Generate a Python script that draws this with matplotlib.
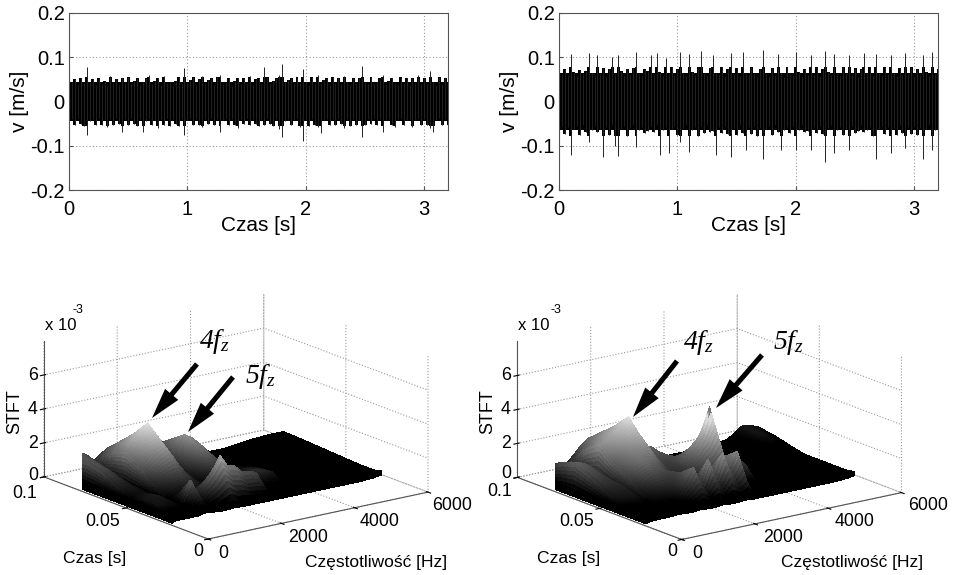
import numpy as np
from matplotlib import pyplot as plt
from matplotlib.colors import LinearSegmentedColormap

plt.rcParams['font.family'] = ['Liberation Sans', 'DejaVu Sans']
plt.rcParams['mathtext.fontset'] = 'custom'
plt.rcParams['mathtext.it'] = 'Liberation Serif:italic'
plt.rcParams['mathtext.rm'] = 'Liberation Serif:italic'

# envelope of the velocity traces, one value every 0.025 s, in mm/s
time_step = 0.025
left_up = [54,44,50,38,52,42,78,44,50,38,54,40,46,36,58,42,50,37,53,41,
           56,39,46,54,38,45,52,60,40,46,53,38,58,42,45,36,47,55,39,75,
           42,48,55,38,50,57,39,49,53,38,55,60,40,45,52,36,46,54,39,52,
           41,58,38,50,53,39,78,55,40,46,52,60,85,44,49,53,39,56,42,74,
           44,38,55,40,60,42,48,53,37,56,41,52,39,58,44,38,54,42,52,80,
           45,39,56,41,45,52,60,40,46,54,42,38,56,40,52,38,53,41,60,39,
           52,40,68,44,38,55,39,52,44]
left_down = [55,40,52,38,50,56,75,44,39,53,38,54,42,58,39,52,37,50,70,40,
             53,38,50,55,40,68,44,38,54,41,60,39,52,37,55,40,50,56,39,75,
             42,38,54,40,52,58,39,50,38,53,40,68,42,38,54,39,52,60,40,50,
             38,54,40,50,56,39,52,38,50,55,40,62,80,44,39,54,42,38,58,90,
             42,55,39,52,58,72,42,40,54,39,52,38,50,60,40,55,39,52,42,80,
             54,40,50,38,53,40,70,42,39,52,58,40,38,54,42,39,58,42,38,54,
             40,52,60,70,42,38,54,40,52]
right_up = [72,62,74,60,108,66,58,72,62,70,110,64,58,104,62,76,56,74,100,62,
            106,68,58,74,60,76,112,62,58,74,68,104,60,110,66,58,98,62,78,60,
            74,112,62,58,108,66,60,78,114,62,58,76,104,64,60,78,56,74,110,62,
            76,58,112,64,60,78,62,56,74,116,62,58,76,60,108,64,56,78,62,60,
            112,66,58,74,60,106,62,78,56,74,114,66,60,108,62,58,78,64,104,60,
            76,56,74,110,62,78,58,108,64,60,78,62,106,64,58,76,60,110,62,78,
            56,74,60,106,66,58,112,62,74]
right_down = [70,56,74,58,120,62,56,76,54,70,92,64,56,70,62,126,58,76,54,100,
              124,62,56,78,60,54,102,64,58,72,66,56,70,54,120,64,58,116,62,56,
              76,92,60,54,114,64,58,78,56,72,54,70,66,120,58,72,56,74,126,60,
              76,54,72,110,58,74,56,78,60,130,62,56,76,54,70,110,64,58,72,56,
              110,64,54,70,66,110,58,72,56,74,136,60,54,116,64,58,76,62,110,56,
              72,66,54,70,64,58,78,130,62,56,74,58,116,60,76,54,72,106,58,74,
              56,76,60,130,62,54,110,64,58]

velocity_ticks_x = [0, 1, 2, 3]
velocity_ticks_y = [-0.2, -0.1, 0, 0.1, 0.2]
velocity_labels_y = ['-0.2', '-0.1', '0', '0.1', '0.2']

# STFT surfaces, values in 1e-3, rows go with stft_time, columns with stft_freq
stft_freq = [100,150,400,600,750,800,1000,1200,1400,1600,1800,2000,2200,2400,
             2600,2800,3000,3200,3400,3600,3800,4000,4400,4800,5200,5600,6000]
stft_time = [0.088,0.076,0.068,0.059,0.050,0.041,0.033,0.024]

stft_left = [
 [0,1.7,1.7,1.5,0.4,1.0,1.3,1.6,1.7,1.4,1.0,0.7,0.9,1.2,1.0,0.8,0.5,0.5,0.45,0.4,0.3,0.1,0.1,0.2,0.3,0.35,0.35],
 [0,1.7,1.5,1.1,0.4,1.9,2.3,2.6,2.8,2.5,1.5,0.9,1.5,2.0,1.9,1.6,1.1,0.7,0.5,0.4,0.3,0.2,0.2,0.25,0.3,0.3,0.3],
 [0,1.5,1.3,0.9,0.3,2.2,2.8,3.3,3.7,3.0,1.7,0.9,1.7,2.55,2.3,1.8,1.2,0.7,0.5,0.4,0.3,0.2,0.2,0.25,0.25,0.25,0.25],
 [0,1.0,0.9,0.7,0.3,1.7,2.1,2.5,2.8,2.2,1.3,0.9,1.4,2.0,1.9,1.4,1.0,0.5,0.5,0.5,0.45,0.2,0.2,0.2,0.2,0.2,0.2],
 [0,0.6,0.7,0.6,0.3,1.0,1.2,1.4,1.5,1.3,0.9,0.6,0.8,1.1,1.1,0.9,0.7,0.8,0.8,0.7,0.4,0.15,0.15,0.2,0.15,0.15,0.15],
 [0,0.8,0.9,0.7,0.4,0.5,0.6,0.6,0.7,0.7,0.6,0.8,1.2,1.4,1.3,1.1,1.0,1.1,1.0,0.8,0.2,0.1,0.1,0.1,0.1,0.1,0.1],
 [0,0.8,0.7,0.6,0.4,0.6,1.8,0.9,1.5,2.1,2.9,2.2,2.1,1.6,1.6,1.4,0.4,0.3,0.25,0.2,0.15,0.1,0.1,0.1,0.1,0.1,0.1],
 [0,0.1,0.1,0.1,0.1,0.1,0.2,0.15,0.1,0.1,0.15,0.1,0.1,0.1,0.1,0.1,0.1,0.1,0.1,0.1,0.1,0.1,0.1,0.1,0.1,0.15,0.3],
]
stft_right = [
 [0,1.0,1.0,0.9,0.3,0.9,1.3,1.8,2.1,2.2,1.7,1.2,1.0,0.7,0.4,0.2,0.1,0.1,0.1,0.1,0.1,0.1,0.1,0.15,0.3,0.9,0.7],
 [0,1.7,1.6,1.3,0.3,2.1,2.4,2.7,2.9,3.2,2.4,1.7,1.6,1.3,0.9,0.4,0.2,0.1,0.1,0.1,0.1,0.1,0.1,0.15,0.3,0.8,0.5],
 [0,2.0,1.8,1.5,0.3,2.7,2.9,3.1,3.5,4.0,3.1,2.0,2.0,1.6,1.0,0.5,0.3,0.2,0.1,0.1,0.1,0.1,0.1,0.1,0.2,0.5,0.3],
 [0,1.6,1.5,1.2,0.3,1.9,2.2,2.5,2.7,2.9,2.3,1.5,1.5,1.6,1.6,1.5,1.0,0.3,0.2,0.1,0.1,0.1,0.1,0.1,0.15,0.3,0.1],
 [0,1.1,1.1,1.1,0.4,1.5,2.0,2.2,2.0,1.8,1.4,1.2,1.3,1.9,2.6,3.3,4.6,0.4,1.0,1.6,0.2,0.1,0.1,0.1,0.1,0.2,0.1],
 [0,0.7,0.8,0.8,0.5,0.8,1.0,1.2,1.2,1.3,1.6,1.0,1.0,1.2,1.4,1.6,2.0,0.5,0.8,1.2,0.2,0.1,0.1,0.1,0.1,0.15,0.1],
 [0,0.1,0.2,0.3,0.3,0.4,0.5,0.5,0.8,1.4,2.2,1.2,2.5,1.4,2.7,1.6,2.6,0.2,0.15,0.1,0.1,0.1,0.1,0.1,0.1,0.1,0.1],
 [0,0.05,0.1,0.1,0.1,0.1,0.15,0.1,0.1,0.15,0.1,0.1,0.15,0.1,0.1,0.15,0.1,0.1,0.1,0.1,0.1,0.1,0.1,0.1,0.1,0.15,0.3],
]
stft_freq_ticks = [0, 2000, 4000, 6000]
stft_time_ticks = [0, 0.05, 0.1]
stft_z_ticks = [0, 2, 4, 6]

W, H = 955, 575
fig = plt.figure(figsize=(W/100, H/100), dpi=100)
dots = (0, (1, 2))

left_map = LinearSegmentedColormap.from_list('left_map', ['black', '#e4e4e4'])
# the blade of the 5fz peak is darker again at its top
right_map = LinearSegmentedColormap.from_list(
    'right_map', [(0, 'black'), (0.86, '#e4e4e4'), (0.93, '#808080'), (1, '#505050')])


def velocity_panel(x0, x1, up, down, floor, limit):
    ax = fig.add_axes([x0/W, 1-190/H, (x1-x0)/W, 177/H])
    t = np.arange(len(up))*time_step
    up = np.array(up)/1000
    down = np.array(down)/1000
    # solid band between floor and limit, the spikes above it stay thin lines
    ax.fill_between(t, -np.clip(down, floor, limit), np.clip(up, floor, limit),
                    color='k', lw=0, step='mid')
    ax.vlines(t, -down, up, color='#222222', lw=0.7)
    ax.set_xlim(0, 3.2)
    ax.set_ylim(-0.2, 0.2)
    ax.set_xticks(velocity_ticks_x)
    ax.set_yticks(velocity_ticks_y, velocity_labels_y)
    ax.tick_params(labelsize=14.5, direction='in', length=3, color='#555555', pad=3)
    ax.tick_params(axis='x', pad=7)
    ax.grid(True, ls=dots, color='#999999', lw=0.8)
    ax.set_axisbelow(True)
    for s in ax.spines.values():
        s.set_color('#555555')
    ax.set_xlabel('Czas [s]', fontsize=15, labelpad=-2)
    ax.set_ylabel('v [m/s]', fontsize=15, labelpad=1)


def stft_panel(cx, cy, z, cmap, vmax):
    side = 300
    ax = fig.add_axes([(cx-side/2)/W, 1-(cy+side/2)/H, side/W, side/H],
                      projection='3d', proj_type='ortho')
    ax.patch.set_alpha(0)
    ax.view_init(elev=16.5, azim=-126.9)
    ax.set_box_aspect((275, 273.6, 141.8), zoom=1.336)
    ax.set_xlim(0, 6000)
    ax.set_ylim(0, 0.1)
    ax.set_zlim(0, 8)

    # fine mesh only to get the smooth colour shading of the original
    z = np.array(z)
    rows = np.linspace(0, len(stft_time)-1, 57)
    cols = np.linspace(0, len(stft_freq)-1, 209)
    rr = np.arange(len(stft_time))
    cc = np.arange(len(stft_freq))
    zf = np.array([np.interp(cols, cc, row) for row in z])
    zf = np.array([np.interp(rows, rr, zf[:, j]) for j in range(len(cols))]).T
    fm = np.interp(cols, cc, stft_freq)
    tm = np.interp(rows, rr, stft_time)
    X, Y = np.meshgrid(fm, tm)
    ax.plot_surface(X, Y, zf, cmap=cmap, vmin=0.5, vmax=vmax, rstride=1, cstride=1,
                    linewidth=0, antialiased=False, shade=False)

    ax.set_xticks(stft_freq_ticks, ['']*len(stft_freq_ticks))
    ax.set_yticks(stft_time_ticks, ['']*len(stft_time_ticks))
    ax.set_zticks(stft_z_ticks, ['']*len(stft_z_ticks))
    for a in (ax.xaxis, ax.yaxis, ax.zaxis):
        a.set_pane_color((1, 1, 1, 0))
        a.pane.set_edgecolor('none')
        a.line.set_color('#555555')
        a.line.set_linewidth(0.8)
        a._axinfo['grid'].update(color='#999999', linestyle=':', linewidth=0.8)
    return ax


velocity_panel(69, 448, left_up, left_down, 0.044, 0.056)
velocity_panel(559, 938, right_up, right_down, 0.064, 0.078)
stft_panel(231.9, 420.6, stft_left, left_map, 3.7)
stft_panel(705.4, 421.1, stft_right, right_map, 4.6)

# overlay in pixel coordinates for the labels and arrows
top = fig.add_axes([0, 0, 1, 1])
top.set_xlim(0, W)
top.set_ylim(H, 0)
top.axis('off')
top.patch.set_alpha(0)

tick_places = [
    [('6000', 452, 505), ('4000', 380, 522), ('2000', 308, 537), ('0', 223, 553),
     ('0', 198, 552), ('0.05', 103, 521), ('0.1', 25, 493),
     ('6', 33, 376), ('4', 33, 410), ('2', 33, 444), ('0', 33, 475)],
    [('6000', 928, 505), ('4000', 855, 522), ('2000', 783, 537), ('0', 697, 553),
     ('0', 672, 552), ('0.05', 577, 522), ('0.1', 500, 492),
     ('6', 506, 375), ('4', 506, 409), ('2', 506, 443), ('0', 506, 474)],
]
for panel in tick_places:
    for s, x, y in panel:
        top.text(x, y, s, fontsize=12.8, ha='center', va='center')

for czas, freq, stft in [(95, 376, 15), (569, 852, 488)]:
    top.text(czas, 558, 'Czas [s]', fontsize=12.6, ha='center', va='center')
    top.text(freq, 562, 'Częstotliwość [Hz]', fontsize=12.5, ha='center', va='center')
    top.text(stft, 412, 'STFT', fontsize=13, rotation=90, ha='center', va='center')
for x, xs in [(45, 78), (518, 556)]:
    top.text(x, 325, 'x 10', fontsize=12, ha='left', va='center')
    top.text(xs, 310, '-3', fontsize=9, ha='center', va='center')

arrows = [((197, 364), (152, 418)), ((233, 377), (188, 432)),
          ((677, 361), (633, 417)), ((762, 355), (716, 408))]
for start, end in arrows:
    top.annotate('', xy=end, xytext=start,
                 arrowprops=dict(arrowstyle='simple,head_length=1.7,head_width=0.95,tail_width=0.28',
                                 mutation_scale=13, color='k', lw=0, shrinkA=0, shrinkB=0))
for x, y, s in [(199, 348, '4'), (245, 383, '5'), (683, 349, '4'), (773, 349, '5')]:
    top.text(x, y, '$' + s + 'f_z$', fontsize=20, ha='left', va='baseline')

fig.savefig('out.png', dpi=100)
